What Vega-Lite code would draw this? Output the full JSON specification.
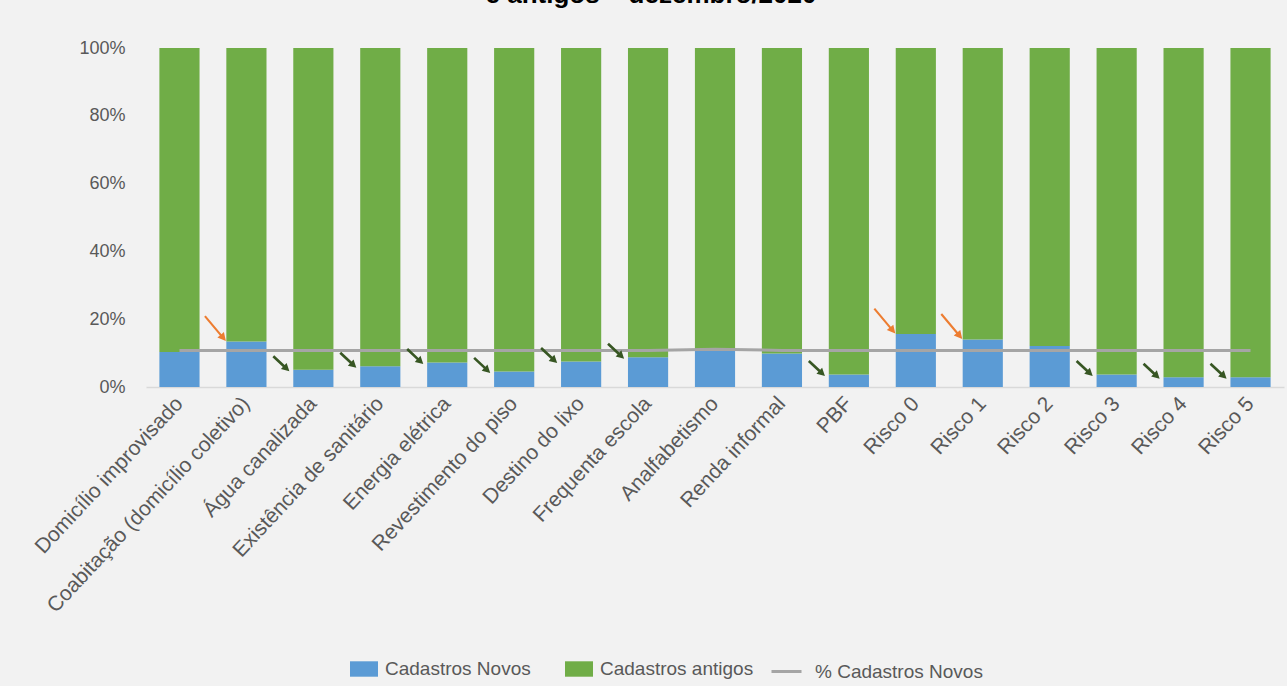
{
  "$schema": "https://vega.github.io/schema/vega-lite/v6.json",
  "autosize": {"type": "none"},
  "padding": {"left": 146, "top": 48, "right": 3, "bottom": 299},
  "width": 1138,
  "height": 339,
  "background": "#f2f2f2",
  "title": {
    "text": "e antigos – dezembro/2020",
    "anchor": "middle",
    "frame": "group",
    "orient": "top",
    "offset": 10,
    "baseline": "alphabetic",
    "dx": -64,
    "font": "Liberation Sans",
    "fontSize": 26,
    "fontWeight": "bold",
    "color": "#000000"
  },
  "config": {
    "view": {"stroke": null},
    "font": "Liberation Sans"
  },
  "resolve": {"scale": {"color": "independent"}, "legend": {"color": "independent"}},
  "data": {
    "values": [
      {"categoria": "Domicílio improvisado", "Cadastros Novos": 0.103, "Cadastros antigos": 0.897, "% Cadastros Novos": 0.108, "seta": ""},
      {"categoria": "Coabitação (domicílio coletivo)", "Cadastros Novos": 0.134, "Cadastros antigos": 0.866, "% Cadastros Novos": 0.108, "seta": "laranja"},
      {"categoria": "Água canalizada", "Cadastros Novos": 0.051, "Cadastros antigos": 0.949, "% Cadastros Novos": 0.108, "seta": "verde"},
      {"categoria": "Existência de sanitário", "Cadastros Novos": 0.061, "Cadastros antigos": 0.939, "% Cadastros Novos": 0.108, "seta": "verde"},
      {"categoria": "Energia elétrica", "Cadastros Novos": 0.072, "Cadastros antigos": 0.928, "% Cadastros Novos": 0.108, "seta": "verde"},
      {"categoria": "Revestimento do piso", "Cadastros Novos": 0.046, "Cadastros antigos": 0.954, "% Cadastros Novos": 0.108, "seta": "verde"},
      {"categoria": "Destino do lixo", "Cadastros Novos": 0.075, "Cadastros antigos": 0.925, "% Cadastros Novos": 0.108, "seta": "verde"},
      {"categoria": "Frequenta escola", "Cadastros Novos": 0.088, "Cadastros antigos": 0.912, "% Cadastros Novos": 0.108, "seta": "verde"},
      {"categoria": "Analfabetismo", "Cadastros Novos": 0.108, "Cadastros antigos": 0.892, "% Cadastros Novos": 0.111, "seta": ""},
      {"categoria": "Renda informal", "Cadastros Novos": 0.099, "Cadastros antigos": 0.901, "% Cadastros Novos": 0.108, "seta": ""},
      {"categoria": "PBF", "Cadastros Novos": 0.037, "Cadastros antigos": 0.963, "% Cadastros Novos": 0.108, "seta": "verde"},
      {"categoria": "Risco 0", "Cadastros Novos": 0.156, "Cadastros antigos": 0.844, "% Cadastros Novos": 0.108, "seta": "laranja"},
      {"categoria": "Risco 1", "Cadastros Novos": 0.14, "Cadastros antigos": 0.86, "% Cadastros Novos": 0.108, "seta": "laranja"},
      {"categoria": "Risco 2", "Cadastros Novos": 0.121, "Cadastros antigos": 0.879, "% Cadastros Novos": 0.108, "seta": ""},
      {"categoria": "Risco 3", "Cadastros Novos": 0.037, "Cadastros antigos": 0.963, "% Cadastros Novos": 0.108, "seta": "verde"},
      {"categoria": "Risco 4", "Cadastros Novos": 0.029, "Cadastros antigos": 0.971, "% Cadastros Novos": 0.108, "seta": "verde"},
      {"categoria": "Risco 5", "Cadastros Novos": 0.029, "Cadastros antigos": 0.971, "% Cadastros Novos": 0.108, "seta": "verde"}
    ]
  },
  "encoding": {
    "x": {
      "field": "categoria",
      "type": "nominal",
      "sort": null,
      "scale": {"paddingInner": 0.4, "paddingOuter": 0.2},
      "axis": {
        "title": null,
        "labelAngle": -47,
        "labelAlign": "right",
        "labelBaseline": "middle",
        "labelFontSize": 21,
        "labelColor": "#595959",
        "labelPadding": 13,
        "labelOverlap": false,
        "ticks": false,
        "domainColor": "#d9d9d9",
        "domainWidth": 1.5,
        "labelLimit": 400
      }
    }
  },
  "layer": [
    {
      "transform": [{"fold": ["Cadastros Novos", "Cadastros antigos"], "as": ["serie", "valor"]}],
      "mark": {"type": "bar"},
      "encoding": {
        "y": {
          "field": "valor",
          "type": "quantitative",
          "stack": "zero",
          "scale": {"domain": [0, 1]},
          "axis": {"title": null, "format": ".0%", "values": [0, 0.1, 0.2, 0.3, 0.4, 0.5, 0.6, 0.7, 0.8, 0.9, 1], "tickCount": 10, "labelOverlap": false, "grid": false, "domain": false, "ticks": false, "labelFontSize": 18, "labelColor": "#595959", "labelPadding": 21}
        },
        "color": {
          "field": "serie",
          "type": "nominal",
          "scale": {
            "domain": ["Cadastros Novos", "Cadastros antigos"],
            "range": ["#5b9bd5", "#70ad47"]
          },
          "legend": {
            "orient": "none",
            "legendX": 204,
            "legendY": 607,
            "direction": "horizontal",
            "title": null,
            "labelFontSize": 19,
            "labelColor": "#595959",
            "labelOffset": 7,
            "columnPadding": 34,
            "labelLimit": 300,
            "symbolSize": 784,
            "symbolType": "M-1,-0.55H1V0.55H-1Z",
            "symbolStrokeWidth": 0
          }
        },
        "order": {"field": "serie", "sort": "ascending"}
      }
    },
    {
      "transform": [{"fold": ["% Cadastros Novos"], "as": ["serie", "valor"]}],
      "mark": {"type": "line", "strokeWidth": 3},
      "encoding": {
        "y": {
          "field": "valor",
          "type": "quantitative",
          "axis": {"title": null, "format": ".0%", "values": [0, 0.1, 0.2, 0.3, 0.4, 0.5, 0.6, 0.7, 0.8, 0.9, 1], "tickCount": 10, "labelOverlap": false, "grid": false, "domain": false, "ticks": false, "labelFontSize": 18, "labelColor": "#595959", "labelPadding": 21}
        },
        "color": {
          "field": "serie",
          "type": "nominal",
          "scale": {"domain": ["% Cadastros Novos"], "range": ["#a5a5a5"]},
          "legend": {
            "orient": "none",
            "legendX": 624,
            "legendY": 607,
            "title": null,
            "labelFontSize": 19,
            "labelColor": "#595959",
            "labelOffset": 12,
            "labelLimit": 300,
            "symbolType": "stroke",
            "symbolSize": 900,
            "symbolStrokeWidth": 3
          }
        }
      }
    },
    {
      "transform": [{"filter": "datum.seta === 'verde'"}],
      "mark": {"type": "point", "shape": "M-1,-0.12L0.3,-0.12L0.3,-0.38L1,0L0.3,0.38L0.3,0.12L-1,0.12Z", "filled": true, "opacity": 1, "color": "#375623", "size": 484, "angle": 43, "xOffset": -32, "yOffset": -6},
      "encoding": {
        "y": {
          "field": "Cadastros Novos",
          "type": "quantitative",
          "axis": {"title": null, "format": ".0%", "values": [0, 0.1, 0.2, 0.3, 0.4, 0.5, 0.6, 0.7, 0.8, 0.9, 1], "tickCount": 10, "labelOverlap": false, "grid": false, "domain": false, "ticks": false, "labelFontSize": 18, "labelColor": "#595959", "labelPadding": 21}
        }
      }
    },
    {
      "transform": [{"filter": "datum.seta === 'laranja'"}],
      "mark": {"type": "point", "shape": "M-1,-0.065L0.5,-0.065L0.5,-0.26L1,0L0.5,0.26L0.5,0.065L-1,0.065Z", "filled": true, "opacity": 1, "color": "#ed7d31", "size": 1063, "angle": 50, "xOffset": -31, "yOffset": -13},
      "encoding": {
        "y": {
          "field": "Cadastros Novos",
          "type": "quantitative",
          "axis": {"title": null, "format": ".0%", "values": [0, 0.1, 0.2, 0.3, 0.4, 0.5, 0.6, 0.7, 0.8, 0.9, 1], "tickCount": 10, "labelOverlap": false, "grid": false, "domain": false, "ticks": false, "labelFontSize": 18, "labelColor": "#595959", "labelPadding": 21}
        }
      }
    }
  ]
}
